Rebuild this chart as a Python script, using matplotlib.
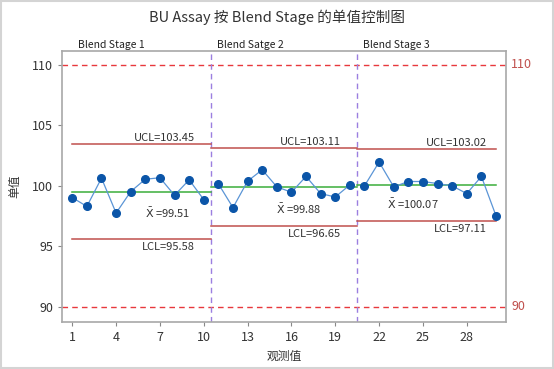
import matplotlib
matplotlib.use('Agg')
import matplotlib.pyplot as plt
import matplotlib.patches as mpatches
import matplotlib.transforms as mtransforms
import numpy as np

plt.rcParams['font.family'] = ['Noto Sans CJK SC', 'DejaVu Sans']
plt.rcParams['mathtext.fontset'] = 'dejavusans'

# 数据：每个 Blend Stage 10 个观测值
stage_names = ['Blend Stage 1', 'Blend Satge 2', 'Blend Stage 3']
stage1 = [99.03, 98.30, 100.64, 97.75, 99.53, 100.55, 100.67, 99.22, 100.50, 98.86]
stage2 = [100.17, 98.20, 100.39, 101.33, 99.92, 99.47, 100.78, 99.36, 99.08, 100.08]
stage3 = [100.00, 101.97, 99.92, 100.36, 100.36, 100.19, 100.00, 99.36, 100.78, 97.53]

means = [99.51, 99.88, 100.07]
ucls = [103.45, 103.11, 103.02]
lcls = [95.58, 96.65, 97.11]
spec_limits = [90, 110]

xticks = [1, 4, 7, 10, 13, 16, 19, 22, 25, 28]
yticks = [90, 95, 100, 105, 110]

values = stage1 + stage2 + stage3
obs = np.arange(1, len(values) + 1)
n_per = len(stage1)

RED_LIM = '#c0504d'
CTRL = '#c0504d'
CENTER = '#3aae3a'
SPEC = '#e8383d'
DIV = '#9b7fe0'
TXT = '#333333'

fig = plt.figure(figsize=(5.54, 3.69), dpi=100)
ax = fig.add_axes([0.1125, 0.128, 0.801, 0.734])

# 规格限
for s in spec_limits:
    ax.axhline(s, color=SPEC, lw=1.0, ls=(0, (4, 3)), zorder=1)

# 各阶段分隔线
for k in range(1, 3):
    ax.axvline(k * n_per + 0.5, color=DIV, lw=1.0, ls=(0, (4, 3)), zorder=1)

# 控制限与中心线
for k in range(3):
    x0 = 1 if k == 0 else k * n_per + 0.5
    x1 = (k + 1) * n_per + (0.5 if k < 2 else 0)
    ax.plot([x0, x1], [ucls[k], ucls[k]], color=CTRL, lw=1.1, zorder=2)
    ax.plot([x0, x1], [lcls[k], lcls[k]], color=CTRL, lw=1.1, zorder=2)
    ax.plot([x0, x1], [means[k], means[k]], color=CENTER, lw=1.1, zorder=2)
    xe = (k + 1) * n_per - 0.6
    ax.text(xe, ucls[k] + 0.12, f'UCL={ucls[k]:.2f}', ha='right', va='bottom',
            fontsize=8, color=TXT)
    ax.text(xe, lcls[k] - 0.25, f'LCL={lcls[k]:.2f}', ha='right', va='top',
            fontsize=8, color=TXT)

xbar_pos = [(7.5, 97.8), (16.5, 98.1), (24.3, 98.5)]
for k in range(3):
    ax.text(xbar_pos[k][0], xbar_pos[k][1],
            r'$\bar{\mathrm{X}}$' + f' ={means[k]:.2f}',
            ha='center', va='center', fontsize=8, color=TXT)

# 数据点（按阶段断开）
for k, seg in enumerate([stage1, stage2, stage3]):
    xs = obs[k * n_per:(k + 1) * n_per]
    ax.plot(xs, seg, color='#5b95d6', lw=0.9, zorder=3)
    ax.plot(xs, seg, 'o', color='#0b55a8', ms=5.5, zorder=4)

ax.set_xlim(0.32, 30.69)
ax.set_ylim(88.76, 111.16)
ax.set_xticks(xticks)
ax.set_yticks(yticks)
ax.tick_params(labelsize=9, colors=TXT, length=3, width=0.8)
ax.tick_params(axis='both', color='#888888')
for sp in ax.spines.values():
    sp.set_color('#a8a8a8')
    sp.set_linewidth(1.2)

# 右侧规格限标签
trans = mtransforms.blended_transform_factory(ax.transAxes, ax.transData)
for s in spec_limits:
    ax.text(1.012, s, str(s), transform=trans, ha='left', va='center',
            fontsize=9, color=RED_LIM)

# 阶段标签
stage_x = [1.4, 10.9, 20.9]
trans2 = mtransforms.blended_transform_factory(ax.transData, ax.transAxes)
for k in range(3):
    ax.text(stage_x[k], 1.005, stage_names[k], transform=trans2, ha='left',
            va='bottom', fontsize=7.5, color='#222222')

ax.set_xlabel('观测值', fontsize=8.5, color=TXT, labelpad=4)
ax.set_ylabel('单值', fontsize=8.5, color=TXT, labelpad=8)
fig.suptitle('BU Assay 按 Blend Stage 的单值控制图', fontsize=10.5,
             color=TXT, y=0.975)

# 外框
fig.patches.append(mpatches.Rectangle((0.002, 0.003), 0.996, 0.994,
                                      transform=fig.transFigure, fill=False,
                                      edgecolor='#d4d4d4', lw=1.5))

fig.savefig('out.png', dpi=100)
